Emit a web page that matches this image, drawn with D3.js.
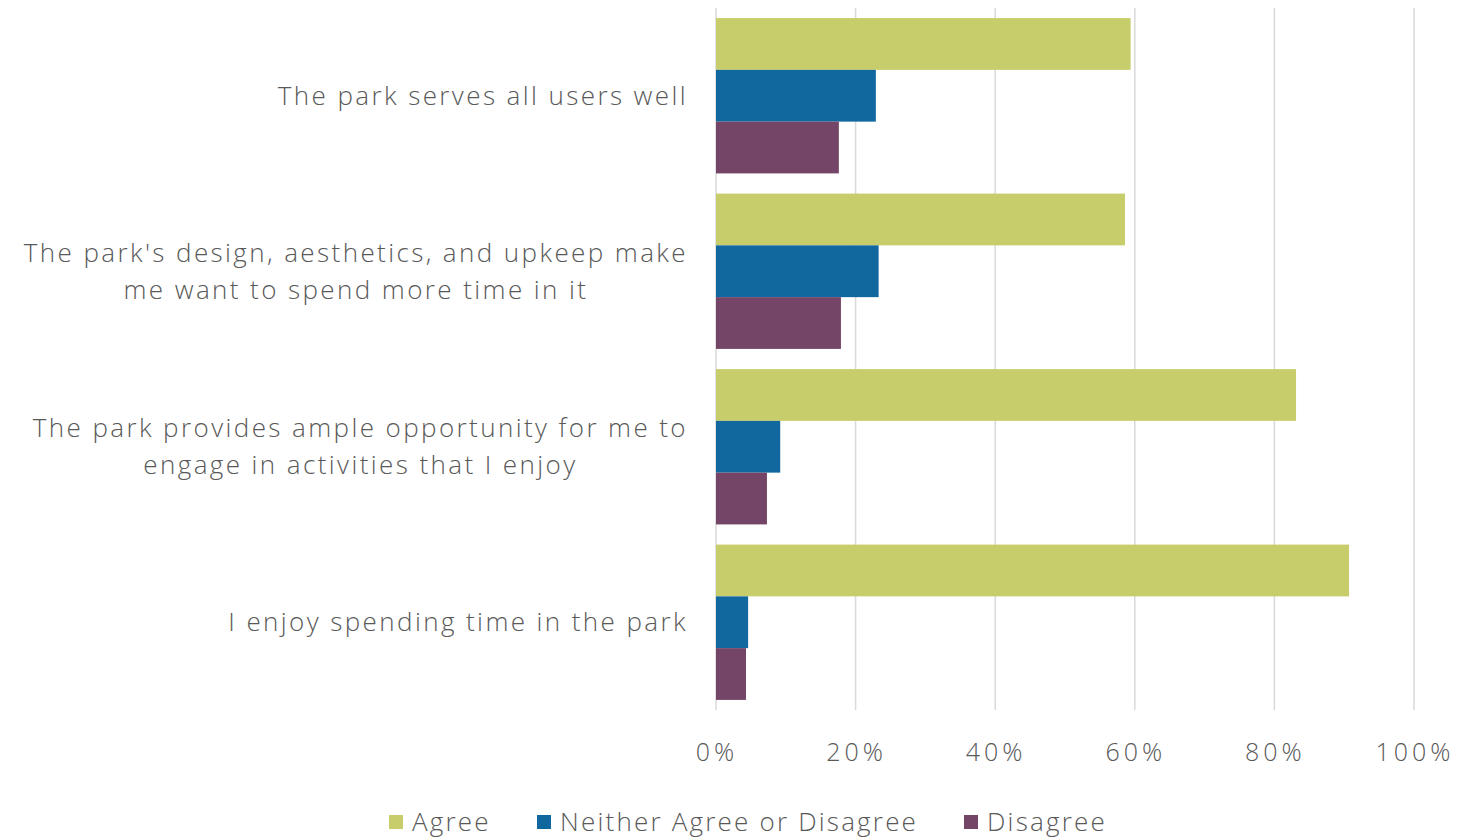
<script src="https://cdn.jsdelivr.net/npm/d3@7"></script>
<style>
  body { margin: 0; background: #fff; }
  text { font-family: "Open Sans", sans-serif; font-weight: 300; fill: #595959; letter-spacing: 2.4px; }
</style>
<div id="vis"></div>
<script>
  // statements, top to bottom
  const statements = [
    ["The park serves all users well"],
    ["The park's design, aesthetics, and upkeep make", "me want to spend more time in it"],
    ["The park provides ample opportunity for me to", "engage in activities that I enjoy"],
    ["I enjoy spending time in the park"]
  ]
  const seriesNames = ["Agree", "Neither Agree or Disagree", "Disagree"]
  const agree = [59.4, 58.6, 83.1, 90.7]
  const neither = [22.9, 23.3, 9.2, 4.6]
  const disagree = [17.6, 17.9, 7.3, 4.3]
  const tickValues = [0, 20, 40, 60, 80, 100]
  const colors = ["#c8cd6b", "#10689f", "#744566"]

  const width = 1458, height = 838
  const svg = d3.select("#vis").append("svg")
    .attr("width", width)
    .attr("height", height)

  const x = d3.scaleLinear().domain([0, 100]).range([716, 1414])
  const y = d3.scaleBand().domain(d3.range(statements.length)).range([8, 710])
    .paddingInner(0.115).paddingOuter(0.0575)
  const sub = d3.scaleBand().domain(d3.range(seriesNames.length)).range([0, y.bandwidth()])

  // gridlines
  svg.append("g").selectAll("line")
    .data(tickValues)
    .join("line")
    .attr("x1", d => x(d)).attr("x2", d => x(d))
    .attr("y1", 8).attr("y2", 710)
    .attr("stroke", "#d9d9d9")
    .attr("stroke-width", 1.5)

  // tick labels
  svg.append("g").selectAll("text")
    .data(tickValues)
    .join("text")
    .attr("x", d => x(d) + 1)
    .attr("y", 761)
    .attr("text-anchor", "middle")
    .style("font-size", "25px")
    .style("letter-spacing", "4px")
    .text(d => d + "%")

  const series = [agree, neither, disagree]
  series.forEach(function (vals, s) {
    svg.append("g").selectAll("rect")
      .data(vals)
      .join("rect")
      .attr("x", x(0))
      .attr("y", (d, i) => y(i) + sub(s))
      .attr("width", d => x(d) - x(0))
      .attr("height", sub.bandwidth())
      .attr("fill", colors[s])
  })

  // category labels
  const labels = svg.append("g").selectAll("text")
    .data(statements)
    .join("text")
    .attr("text-anchor", "end")
    .style("font-size", "26px")
    .attr("transform", (d, i) => "translate(688," + (y(i) + y.bandwidth() / 2) + ")")

  labels.selectAll("tspan")
    .data(d => d.map((t, k) => ({ t: t, k: k, n: d.length })))
    .join("tspan")
    .attr("x", 0)
    .attr("y", d => (d.k - (d.n - 1) / 2) * 37 + 9)
    .text(d => d.t)

  // second lines are centred under the first line
  labels.each(function (d) {
    if (d.length < 2) return
    const spans = d3.select(this).selectAll("tspan").nodes()
    const w0 = spans[0].getComputedTextLength()
    spans.forEach(function (sp, k) {
      if (k == 0) return
      const w = sp.getComputedTextLength()
      d3.select(sp).attr("x", -(w0 - w) / 2)
    })
  })

  // legend
  const legendX = [389, 537, 964]
  const legend = svg.append("g").selectAll("g")
    .data(seriesNames)
    .join("g")
    .attr("transform", (d, i) => "translate(" + legendX[i] + ",815)")
  legend.append("rect")
    .attr("width", 14).attr("height", 14)
    .attr("fill", (d, i) => colors[i])
  legend.append("text")
    .attr("x", 23).attr("y", 16)
    .style("font-size", "26px")
    .style("letter-spacing", "2.2px")
    .text(d => d)
</script>
